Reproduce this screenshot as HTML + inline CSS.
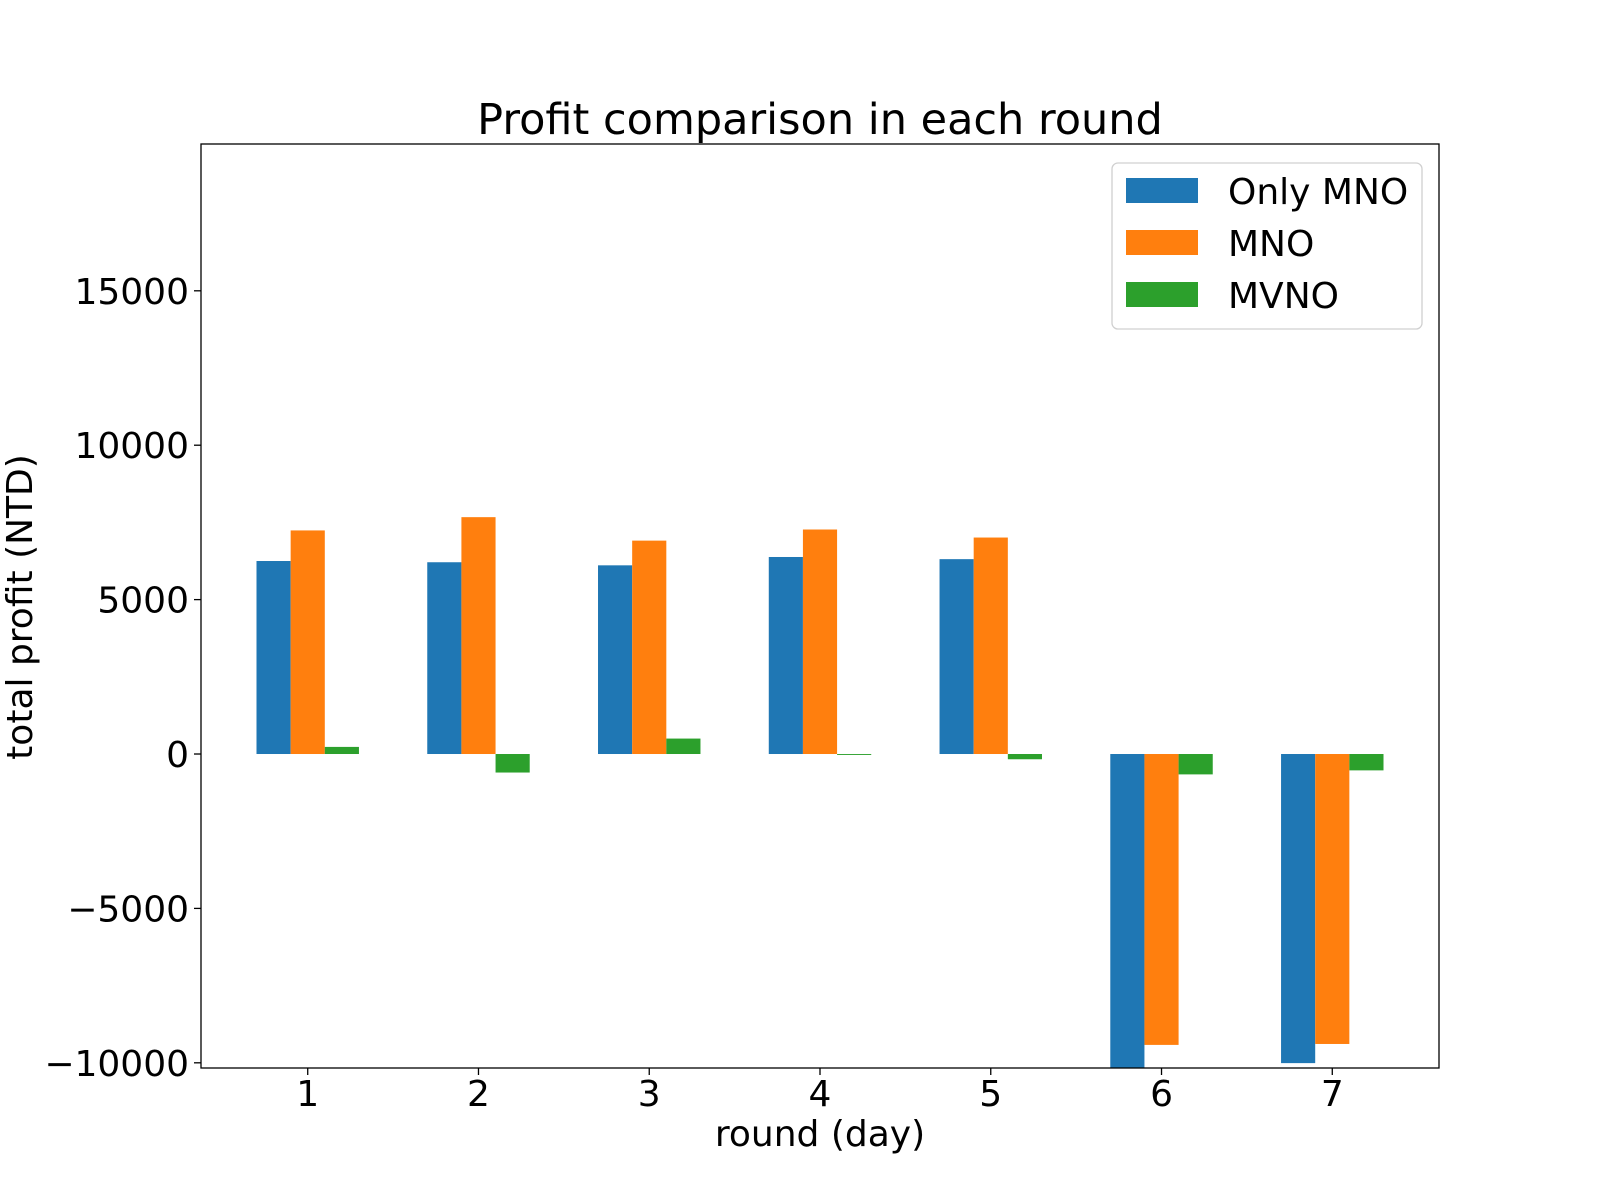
<!DOCTYPE html>
<html><head><meta charset="utf-8"><style>
html,body{margin:0;padding:0;background:#fff}
svg{display:block;font-family:"DejaVu Sans","Liberation Sans",sans-serif}
</style></head><body>
<svg id="chart" width="1600" height="1200" viewBox="0 0 1600 1200">
<rect width="1600" height="1200" fill="#fff"/>
<text x="820" y="134" font-size="43" text-anchor="middle">Profit comparison in each round</text>
<g id="bars"></g>
<g id="yticks"></g>
<g id="xticks"></g>
<rect x="201" y="144" width="1238" height="924" fill="none" stroke="#000" stroke-width="1.3"/>
<text x="820" y="1146" font-size="36" text-anchor="middle">round (day)</text>
<text transform="translate(32,607) rotate(-90)" font-size="36" text-anchor="middle">total profit (NTD)</text>
<g>
<rect x="1112" y="163" width="310" height="166" rx="6" fill="#fff" fill-opacity="0.8" stroke="#d0d0d0" stroke-width="1.3"/>
<rect x="1126" y="178" width="72" height="25" fill="#1f77b4"/>
<text x="1228" y="204" font-size="36">Only MNO</text>
<rect x="1126" y="230" width="72" height="25" fill="#ff7f0e"/>
<text x="1228" y="256" font-size="36">MNO</text>
<rect x="1126" y="282" width="72" height="25" fill="#2ca02c"/>
<text x="1228" y="308" font-size="36">MVNO</text>
</g>
</svg>
<script>
const categories = [1, 2, 3, 4, 5, 6, 7];
const onlyMno = [6250, 6210, 6110, 6380, 6310, -10180, -10010];
const mno = [7240, 7670, 6910, 7270, 7010, -9420, -9390];
const mvno = [230, -600, 500, -30, -170, -660, -530];
const yTicks = [-10000, -5000, 0, 5000, 10000, 15000];
const xMin = 0.375, xMax = 7.625, yMin = -10168, yMax = 19754;
const L = 201, R = 1439, T = 144, B = 1068;
const NS = 'http://www.w3.org/2000/svg';
function xs(v){ return L + (v - xMin) / (xMax - xMin) * (R - L); }
function ys(v){ return B - (v - yMin) / (yMax - yMin) * (B - T); }
function mk(tag, attrs){ const e = document.createElementNS(NS, tag); for (const k in attrs) e.setAttribute(k, attrs[k]); return e; }
const bars = document.getElementById('bars');
const series = [[onlyMno, '#1f77b4', -0.2, 'only-mno'], [mno, '#ff7f0e', 0, 'mno'], [mvno, '#2ca02c', 0.2, 'mvno']];
series.forEach(s => {
  s[0].forEach((v, i) => {
    const c = categories[i] + s[2];
    const x0 = xs(c - 0.1), x1 = xs(c + 0.1);
    const y0 = ys(Math.max(v, 0)), y1 = ys(Math.min(v, 0));
    const yTop = Math.max(y0, T), yBot = Math.min(y1, B);
    const r = mk('rect', {x: x0, y: yTop, width: x1 - x0, height: Math.max(0, yBot - yTop), fill: s[1]});
    
    
    bars.appendChild(r);
  });
});
const yg = document.getElementById('yticks');
yTicks.forEach(t => {
  const y = ys(t);
  const l = mk('line', {x1: L - 7, x2: L, y1: y, y2: y, stroke: '#000', 'stroke-width': 1.3});
  
  
  yg.appendChild(l);
  const tx = mk('text', {x: L - 12, y: y + 13, 'font-size': 36, 'text-anchor': 'end'});
  tx.textContent = t < 0 ? '\u2212' + Math.abs(t) : String(t);
  
  
  yg.appendChild(tx);
});
const xg = document.getElementById('xticks');
categories.forEach(c => {
  const x = xs(c);
  const l = mk('line', {x1: x, x2: x, y1: B, y2: B + 7, stroke: '#000', 'stroke-width': 1.3});
  
  
  xg.appendChild(l);
  const tx = mk('text', {x: x, y: 1106, 'font-size': 36, 'text-anchor': 'middle'});
  tx.textContent = String(c);
  
  
  xg.appendChild(tx);
});
</script>
</body></html>
